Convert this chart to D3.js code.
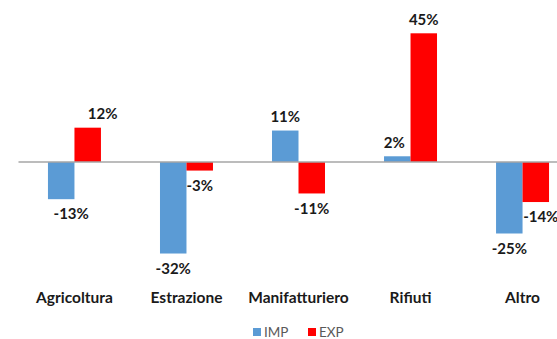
<!DOCTYPE html>
<html>
<head>
<meta charset="utf-8">
<script src="https://cdn.jsdelivr.net/npm/d3@7"></script>
<style>
  body { margin: 0; background: #fff; }
  svg { display: block; font-family: Lato, "Open Sans", sans-serif; }
</style>
</head>
<body>
<script>
// data
let categories = ['Agricoltura', 'Estrazione', 'Manifatturiero', 'Rifiuti', 'Altro'];
let series = ['IMP', 'EXP'];
let impValues = [-13, -32, 11, 2, -25];
let expValues = [12, -3, -11, 45, -14];

let width = 557, height = 339;
let colors = { IMP: '#5b9bd5', EXP: '#ff0000' };

let svg = d3.select('body').append('svg')
    .attr('width', width).attr('height', height);

// outer band scale runs past the right edge, like the cropped original
let x = d3.scaleBand()
    .domain(categories)
    .range([18.5, 578.5])
    .paddingInner(0.527)
    .paddingOuter(0.263);

let xInner = d3.scaleBand()
    .domain(series)
    .range([0, x.bandwidth()]);

let y = d3.scaleLinear()
    .domain([-40, 50])
    .range([162 + 40 * 2.86, 162 - 50 * 2.86]);

let rows = categories.map((c, i) => ({
    cat: c,
    vals: [{ s: 'IMP', v: impValues[i] }, { s: 'EXP', v: expValues[i] }]
}));

let groups = svg.selectAll('g.grp')
    .data(rows).enter().append('g')
    .attr('class', 'grp')
    .attr('transform', d => 'translate(' + x(d.cat) + ',0)');

groups.selectAll('rect')
    .data(d => d.vals).enter().append('rect')
    .attr('x', d => xInner(d.s))
    .attr('width', xInner.bandwidth())
    .attr('y', d => y(Math.max(0, d.v)))
    .attr('height', d => Math.abs(y(d.v) - y(0)))
    .attr('fill', d => colors[d.s]);

// zero line
svg.append('line')
    .attr('x1', 18.5).attr('x2', width)
    .attr('y1', y(0)).attr('y2', y(0))
    .attr('stroke', '#a6a6a6').attr('stroke-width', 1.3);

// a couple of labels were moved by hand in the original
let nudge = { 'Agricoltura-IMP': 10, 'Agricoltura-EXP': 15, 'Rifiuti-IMP': -3, 'Altro-EXP': 5 };

groups.each(function(row) {
    d3.select(this).selectAll('text.val')
        .data(row.vals).enter().append('text')
        .attr('class', 'val')
        .attr('x', d => xInner(d.s) + xInner.bandwidth() / 2 + (nudge[row.cat + '-' + d.s] || 0))
        .attr('y', d => d.v >= 0 ? y(d.v) - 14 : y(d.v) + 15)
        .attr('dy', '0.35em')
        .attr('text-anchor', 'middle')
        .attr('font-size', 15)
        .attr('font-weight', 'bold')
        .attr('fill', '#1a1a1a')
        .text(d => d.v + '%');
});

// category labels
svg.selectAll('text.cat')
    .data(categories).enter().append('text')
    .attr('class', 'cat')
    .attr('x', d => x(d) + x.bandwidth() / 2)
    .attr('y', 298)
    .attr('dy', '0.35em')
    .attr('text-anchor', 'middle')
    .attr('font-size', 15.5)
    .attr('font-weight', 'bold')
    .attr('fill', '#1a1a1a')
    .text(d => d);

// legend
let legend = svg.selectAll('g.leg')
    .data(series).enter().append('g')
    .attr('class', 'leg')
    .attr('transform', (d, i) => 'translate(' + (253 + i * 55) + ',328)');

legend.append('rect')
    .attr('width', 8).attr('height', 8)
    .attr('fill', d => colors[d]);

legend.append('text')
    .attr('x', 11).attr('y', 4)
    .attr('dy', '0.35em')
    .attr('font-size', 13.5)
    .attr('fill', '#595959')
    .text(d => d);
</script>
</body>
</html>
